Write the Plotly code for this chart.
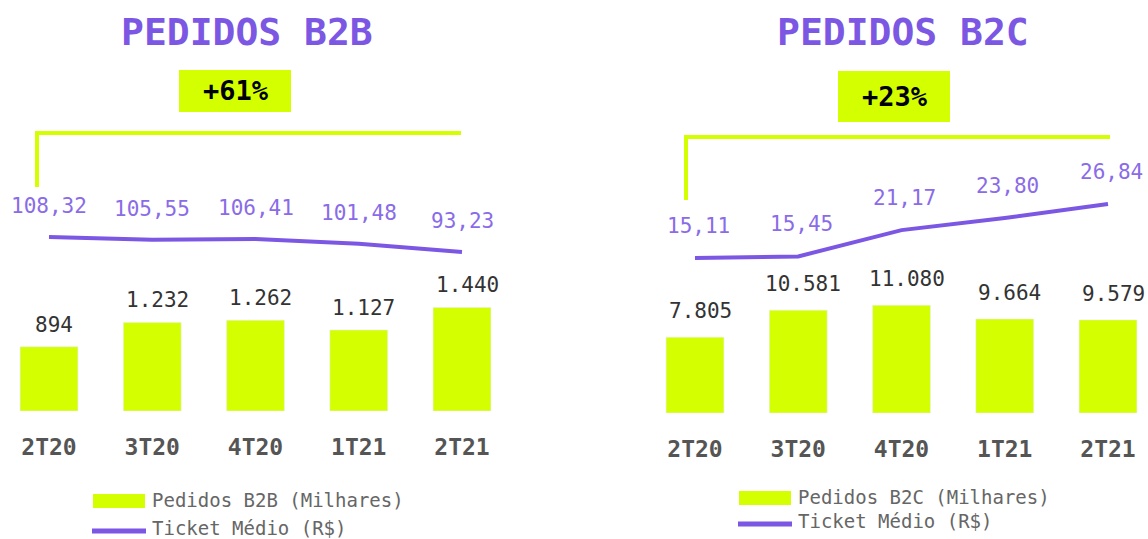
import plotly.graph_objects as go

W, H = 1148, 539

quarters = ['2T20', '3T20', '4T20', '1T21', '2T21']
pedidos_b2b = [894, 1232, 1262, 1127, 1440]
ticket_b2b = [108.32, 105.55, 106.41, 101.48, 93.23]
pedidos_b2c = [7805, 10581, 11080, 9664, 9579]
ticket_b2c = [15.11, 15.45, 21.17, 23.80, 26.84]

LIME = '#d4ff00'
PURPLE = '#7b57e4'
PURPLE_LT = '#8a6be8'
FONT = 'DejaVu Sans Mono'


def px(x):
    return x / W


def py(y):
    return 1 - y / H


def fmt_int(v):
    return f'{v:,}'.replace(',', '.')


def fmt_dec(v):
    return f'{v:.2f}'.replace('.', ',')


def note(**kw):
    kw.setdefault('showarrow', False)
    kw.setdefault('xanchor', 'center')
    kw.setdefault('yanchor', 'middle')
    return kw


fig = go.Figure()

# barras
fig.add_trace(go.Bar(x=quarters, y=pedidos_b2b, marker_color=LIME, width=0.56,
                     xaxis='x', yaxis='y', showlegend=False, hoverinfo='skip'))
fig.add_trace(go.Bar(x=quarters, y=pedidos_b2c, marker_color=LIME, width=0.56,
                     xaxis='x2', yaxis='y2', showlegend=False, hoverinfo='skip'))
# ticket medio
fig.add_trace(go.Scatter(x=quarters, y=ticket_b2b, mode='lines',
                         line=dict(color=PURPLE, width=4),
                         xaxis='x', yaxis='y3', showlegend=False, hoverinfo='skip'))
fig.add_trace(go.Scatter(x=quarters, y=ticket_b2c, mode='lines',
                         line=dict(color=PURPLE, width=4),
                         xaxis='x2', yaxis='y4', showlegend=False, hoverinfo='skip'))

annotations = []
for q, v in zip(quarters, pedidos_b2b):
    annotations.append(note(x=q, y=v, xref='x', yref='y', text=fmt_int(v),
                            yshift=22, xshift=5, font=dict(size=21, color='#333333')))
for q, v in zip(quarters, pedidos_b2c):
    annotations.append(note(x=q, y=v, xref='x2', yref='y2', text=fmt_int(v),
                            yshift=26, xshift=5, font=dict(size=21, color='#333333')))
for q, v in zip(quarters, ticket_b2b):
    annotations.append(note(x=q, y=v, xref='x', yref='y3', text=fmt_dec(v),
                            yshift=31, font=dict(size=21, color=PURPLE_LT)))
for q, v in zip(quarters, ticket_b2c):
    annotations.append(note(x=q, y=v, xref='x2', yref='y4', text=fmt_dec(v),
                            yshift=32, xshift=3, font=dict(size=21, color=PURPLE_LT)))

# titulos
for text, cx in [('PEDIDOS B2B', 247), ('PEDIDOS B2C', 903)]:
    annotations.append(note(x=px(cx), y=py(32), xref='paper', yref='paper', text=f'<b>{text}</b>',
                            font=dict(size=38, color=PURPLE)))

shapes = []
# caixas de crescimento
for text, x0, x1, y0, y1 in [('+61%', 179, 291, 70, 112), ('+23%', 838, 950, 71, 122)]:
    shapes.append(dict(type='rect', xref='paper', yref='paper', x0=px(x0), x1=px(x1),
                       y0=py(y1), y1=py(y0), fillcolor=LIME, line=dict(width=0), layer='below'))
    annotations.append(note(x=px((x0 + x1) / 2 + 1), y=py((y0 + y1) / 2), xref='paper', yref='paper',
                            text=f'<b>{text}</b>', font=dict(size=27, color='#000000')))

# colchetes
for xv, ytop, ybot, xend in [(37, 133, 187, 461), (686, 137, 200, 1110)]:
    shapes.append(dict(type='line', xref='paper', yref='paper', x0=px(xv), x1=px(xv),
                       y0=py(ybot), y1=py(ytop), line=dict(color=LIME, width=4)))
    shapes.append(dict(type='line', xref='paper', yref='paper', x0=px(xv - 2), x1=px(xend),
                       y0=py(ytop), y1=py(ytop), line=dict(color=LIME, width=4)))

# legendas
legend_items = [
    (93, 145, 501, 531, 'Pedidos B2B (Milhares)'),
    (739, 791, 498, 524, 'Pedidos B2C (Milhares)'),
]
for x0, x1, yb, yl, label in legend_items:
    shapes.append(dict(type='rect', xref='paper', yref='paper', x0=px(x0), x1=px(x1),
                       y0=py(yb + 7), y1=py(yb - 7), fillcolor=LIME, line=dict(width=0)))
    shapes.append(dict(type='line', xref='paper', yref='paper', x0=px(x0 - 1), x1=px(x1 + 1),
                       y0=py(yl), y1=py(yl), line=dict(color=PURPLE, width=5)))
    annotations.append(note(x=px(x1 + 5), y=py(yb - 1), xref='paper', yref='paper', text=label,
                            xanchor='left', font=dict(size=19, color='#666666')))
    annotations.append(note(x=px(x1 + 5), y=py(yl - 3), xref='paper', yref='paper',
                            text='Ticket Médio (R$)', xanchor='left',
                            font=dict(size=19, color='#666666')))

step = 103.25
axis_common = dict(type='category', showgrid=False, zeroline=False, showline=False,
                   ticks='', tickfont=dict(size=23, color='#555555', family=FONT, weight='bold'),
                   ticklabelstandoff=20, fixedrange=True)
yaxis_common = dict(showgrid=False, zeroline=False, showline=False, showticklabels=False,
                    ticks='', fixedrange=True)

fig.update_layout(
    width=W, height=H,
    margin=dict(l=0, r=0, t=0, b=0),
    paper_bgcolor='white', plot_bgcolor='white',
    font=dict(family=FONT),
    xaxis=dict(axis_common, domain=[0, px(520)], anchor='y',
               range=[-49 / step, (520 - 49) / step]),
    xaxis2=dict(axis_common, domain=[px(640), 1], anchor='y2',
                range=[(640 - 695) / step, (1148 - 695) / step]),
    yaxis=dict(yaxis_common, domain=[py(411), 1], anchor='x', range=[0, 411 / 0.0719]),
    yaxis2=dict(yaxis_common, domain=[py(413), 1], anchor='x2', range=[0, 413 / 0.00972]),
    yaxis3=dict(yaxis_common, overlaying='y', anchor='x',
                range=[108.32 - (411 - 237), 108.32 + 237]),
    yaxis4=dict(yaxis_common, overlaying='y2', anchor='x2',
                range=[15.11 - (413 - 258) / 4.6, 15.11 + 258 / 4.6]),
    annotations=annotations,
    shapes=shapes,
    showlegend=False,
)

fig.write_html('out.html', config={'displayModeBar': False},
               post_script="document.body.style.margin='0';")
